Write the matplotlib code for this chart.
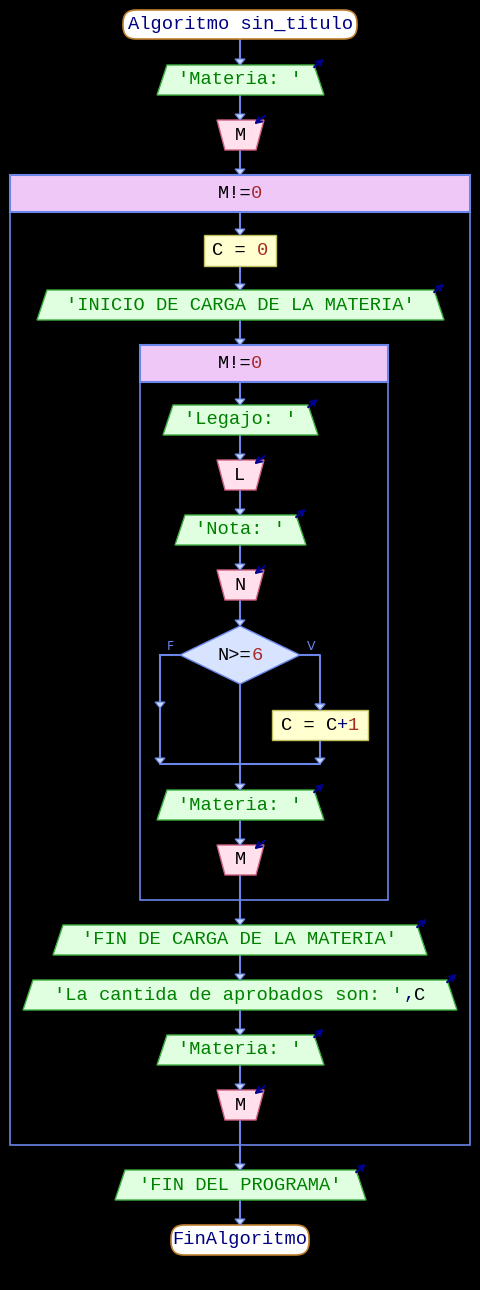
import matplotlib
matplotlib.use("Agg")
import matplotlib.pyplot as plt
from matplotlib.patches import Polygon, FancyBboxPatch, Rectangle

# ---- data: flowchart nodes (kind, text segments) ----
node_kinds = ["start", "out", "in", "while", "assign", "out", "while", "out", "in", "out", "in",
              "if", "assign", "out", "in", "out", "out", "out", "in", "out", "end"]
node_texts = [
    [("Algoritmo sin_titulo", "navy")],
    [("'Materia: '", "green")],
    [("M", "k")],
    [("M!=", "k"), ("0", "brown")],
    [("C = ", "k"), ("0", "brown")],
    [("'INICIO DE CARGA DE LA MATERIA'", "green")],
    [("M!=", "k"), ("0", "brown")],
    [("'Legajo: '", "green")],
    [("L", "k")],
    [("'Nota: '", "green")],
    [("N", "k")],
    [("N>=", "k"), ("6", "brown")],
    [("C = C", "k"), ("+", "navy"), ("1", "brown")],
    [("'Materia: '", "green")],
    [("M", "k")],
    [("'FIN DE CARGA DE LA MATERIA'", "green")],
    [("'La cantida de aprobados son: '", "green"), (",", "navy"), ("C", "k")],
    [("'Materia: '", "green")],
    [("M", "k")],
    [("'FIN DEL PROGRAMA'", "green")],
    [("FinAlgoritmo", "navy")],
]
branch_labels = ["F", "V"]

# layout (pixels)
geo = [
    (10, 39, 111, 369), (65, 95, 157, 324), (120, 150, 217, 264), (175, 212, 10, 470),
    (235, 266, 204, 276), (290, 320, 37, 444), (345, 382, 140, 388), (405, 435, 163, 318),
    (460, 490, 217, 264), (515, 545, 175, 306), (570, 600, 217, 264), (626, 684, 180, 300),
    (710, 740, 272, 368), (790, 820, 157, 324), (845, 875, 217, 264), (925, 955, 53, 427),
    (980, 1010, 23, 457), (1035, 1065, 157, 324), (1090, 1120, 217, 264), (1170, 1200, 115, 366),
    (1225, 1255, 159, 321),
]
loop_bottoms = {3: 1145, 6: 900}

fig = plt.figure(figsize=(4.8, 12.9), dpi=100, facecolor="black")
ax = fig.add_axes([0, 0, 1, 1])
ax.set_xlim(0, 480); ax.set_ylim(1290, 0); ax.axis("off")
ax.set_facecolor("black")
LINE = "#6a86e8"
FS = 13.5
CW = 0.6 * FS * 100 / 72

def draw_text(cx, cy, segs):
    n = sum(len(s) for s, _ in segs)
    x = cx - n * CW / 2
    for s, c in segs:
        ax.text(x, cy, s, color=c, fontsize=FS, family="Liberation Mono",
                ha="left", va="center", zorder=5)
        x += len(s) * CW

def arrowhead(x, y):
    ax.add_patch(Polygon([(x - 5, y - 6), (x + 5, y - 6), (x, y)], closed=True,
                         fc="#c8d8ff", ec=LINE, lw=0.8, zorder=4))

ax.plot([240, 240], [39, 1225], color=LINE, lw=1.5, zorder=1)

for i, (kind, segs) in enumerate(zip(node_kinds, node_texts)):
    t, b, l, r = geo[i]
    cx = 240 if kind != "assign" or i != 12 else (l + r) / 2
    cy = (t + b) / 2
    if kind in ("start", "end"):
        ax.add_patch(FancyBboxPatch((l + 12, t), r - l - 24, b - t,
                     boxstyle="round,pad=0,rounding_size=13", fc="white", ec="#c08030", lw=1.2, zorder=3))
    elif kind == "out":
        ax.add_patch(Polygon([(l, b), (r, b), (r - 10, t), (l + 10, t)], fc="#e0ffe0", ec="#40b040", lw=1, zorder=3))
        ax.annotate("", xy=(r + 2, t - 8), xytext=(r - 12, t + 4),
                    arrowprops=dict(arrowstyle="->", color="#000090", lw=1.5), zorder=6)
    elif kind == "in":
        ax.add_patch(Polygon([(l, t), (r, t), (r - 8, b), (l + 8, b)], fc="#ffe0ec", ec="#d06080", lw=1, zorder=3))
        ax.annotate("", xy=(r - 12, t + 6), xytext=(r + 3, t - 6),
                    arrowprops=dict(arrowstyle="->", color="#000090", lw=1.5), zorder=6)
    elif kind == "while":
        lb = loop_bottoms[i]
        ax.add_patch(Rectangle((l, t), r - l, lb - t, fc="none", ec=LINE, lw=1.2, zorder=2))
        ax.add_patch(Rectangle((l, t), r - l, b - t, fc="#f0c8f8", ec=LINE, lw=1.5, zorder=3))
    elif kind == "assign":
        ax.add_patch(Rectangle((l, t), r - l, b - t, fc="#ffffd0", ec="#c0c060", lw=1, zorder=3))
    elif kind == "if":
        ax.add_patch(Polygon([(l, cy), (cx, t), (r, cy), (cx, b)], fc="#d8e4ff", ec=LINE, lw=1, zorder=3))
        ax.plot([160, l, ], [cy, cy], color=LINE, lw=1.5, zorder=2)
        ax.plot([160, 160, 320, 320], [cy, 764, 764, 740], color=LINE, lw=1.5, zorder=2)
        ax.plot([r, 320, 320], [cy, cy, 710], color=LINE, lw=1.5, zorder=2)
        ax.text(170, 646, branch_labels[0], color=LINE, fontsize=9, family="DejaVu Sans", ha="center", va="center")
        ax.text(311, 646, branch_labels[1], color=LINE, fontsize=9, family="DejaVu Sans", ha="center", va="center")
        for (ax_x, ay) in [(160, 708), (160, 764), (320, 710), (320, 764)]:
            arrowhead(ax_x, ay)
    if i > 0:
        arrowhead(cx if i != 12 else 320, t)
    draw_text(cx, cy, segs)

fig.savefig("out.png", dpi=100, facecolor="black")
